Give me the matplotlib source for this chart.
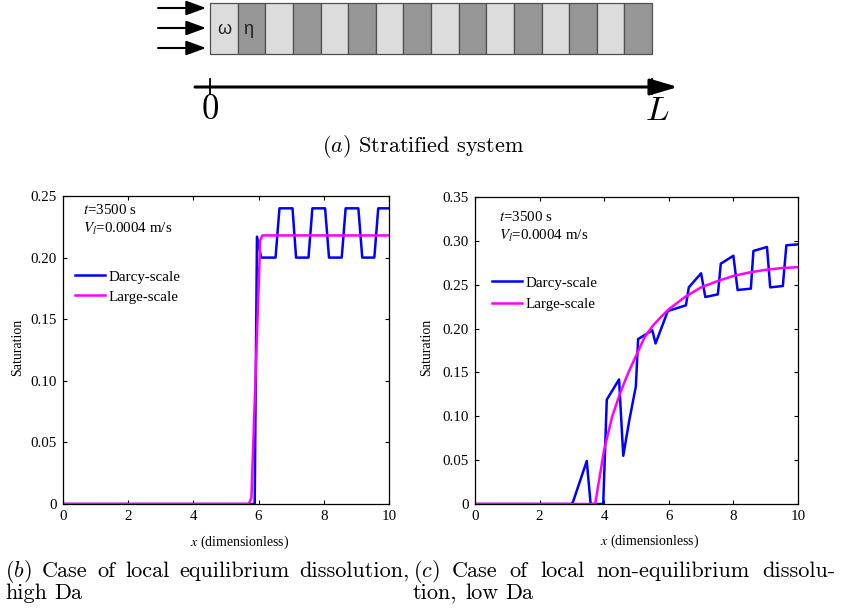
import matplotlib
matplotlib.use('Agg')
import matplotlib.pyplot as plt
from matplotlib.patches import Rectangle

# ---- data ----
# (b) local equilibrium, high Da
x_darcy_b = [0, 5.88, 5.95, 6.08, 6.52, 6.64, 7.04, 7.15, 7.53, 7.65, 8.04, 8.16,
             8.55, 8.67, 9.06, 9.18, 9.55, 9.67, 10]
s_darcy_b = [0, 0, 0.217, 0.200, 0.200, 0.240, 0.240, 0.200, 0.200, 0.240, 0.240, 0.200,
             0.200, 0.240, 0.240, 0.200, 0.200, 0.240, 0.240]
x_large_b = [0, 5.70, 5.78, 6.05, 6.12, 10]
s_large_b = [0, 0, 0.005, 0.214, 0.218, 0.218]

# (c) local non-equilibrium, low Da
x_darcy_c = [0, 2.99, 3.04, 3.46, 3.58, 3.97, 4.08, 4.46, 4.59, 4.78, 4.98, 5.05,
             5.49, 5.59, 5.97, 6.53, 6.62, 7.00, 7.13, 7.52, 7.61, 8.00, 8.13,
             8.54, 8.62, 9.04, 9.14, 9.53, 9.64, 10]
s_darcy_c = [0, 0, 0.003, 0.049, 0, 0, 0.119, 0.142, 0.055, 0.096, 0.134, 0.188,
             0.198, 0.183, 0.220, 0.2265, 0.247, 0.263, 0.236, 0.239, 0.274, 0.283, 0.244,
             0.2455, 0.2885, 0.293, 0.247, 0.2485, 0.295, 0.296]
x_large_c = [0, 3.72, 4.0, 4.25, 4.5, 4.75, 5.0, 5.25, 5.5, 5.75, 6.0, 6.5, 7.0,
             7.5, 8.0, 8.5, 9.0, 9.5, 10]
s_large_c = [0, 0, 0.062, 0.100, 0.127, 0.150, 0.170, 0.190, 0.203, 0.213, 0.222, 0.236, 0.247,
             0.254, 0.260, 0.264, 0.267, 0.269, 0.270]

x_ticks = [0, 2, 4, 6, 8, 10]
y_ticks_b = [0, 0.05, 0.10, 0.15, 0.20, 0.25]
y_ticks_c = [0, 0.05, 0.10, 0.15, 0.20, 0.25, 0.30, 0.35]
n_layers = 16

W, H = 842, 611
fig = plt.figure(figsize=(W / 100, H / 100), dpi=100)

SERIF = 'Liberation Serif'
FS = 10.8
CAP_FS = 16


def px_rect(left, top, right, bottom):
    return [left / W, 1 - bottom / H, (right - left) / W, (bottom - top) / H]


def panel(rect, xd, sd, xl, sl, yticks, ylim, txt_pos, leg_pos, leg_space, xlab_pos, ylab_pos):
    ax = fig.add_axes(rect)
    ax.plot(xd, sd, color='#0000ff', lw=1.8, label='Darcy-scale')
    ax.plot(xl, sl, color='#ff00ff', lw=1.8, label='Large-scale')
    ax.set_xlim(0, 10)
    ax.set_ylim(*ylim)
    ax.set_xticks(x_ticks)
    ax.set_xticklabels([str(t) for t in x_ticks])
    ax.set_yticks(yticks)
    ax.set_yticklabels(['0'] + ['%.2f' % t for t in yticks[1:]])
    ax.tick_params(direction='in', top=True, right=True, length=3, width=0.8,
                   labelsize=FS, pad=4.5)
    for lab in ax.get_xticklabels() + ax.get_yticklabels():
        lab.set_family(SERIF)
    for sp in ax.spines.values():
        sp.set_linewidth(0.9)
    ax.text(txt_pos[0], txt_pos[1], '$t$=3500 s', transform=ax.transAxes,
            family=SERIF, math_fontfamily='stix', fontsize=FS, va='center')
    ax.text(txt_pos[0], txt_pos[2], '$V_l$=0.0004 m/s', transform=ax.transAxes,
            family=SERIF, math_fontfamily='stix', fontsize=FS, va='center')
    ax.legend(loc='upper left', bbox_to_anchor=leg_pos, frameon=False, borderpad=0,
              borderaxespad=0, handlelength=2.0, handletextpad=0.2,
              labelspacing=leg_space, prop={'family': SERIF, 'size': FS})
    ax.text(xlab_pos[0], xlab_pos[1], '$x$ (dimensionless)', transform=ax.transAxes,
            family=SERIF, math_fontfamily='stix', fontsize=10, ha='center', va='center')
    ax.text(ylab_pos[0], ylab_pos[1], 'Saturation', transform=ax.transAxes, rotation=90,
            family=SERIF, fontsize=10, ha='center', va='center')
    return ax


panel(px_rect(63, 196, 389, 504), x_darcy_b, s_darcy_b, x_large_b, s_large_b,
      y_ticks_b, (0, 0.25), (0.061, 0.955, 0.893), (0.037, 0.759), 0.42,
      (0.543, -0.123), (-0.14, 0.51))
panel(px_rect(475, 197, 798, 504), x_darcy_c, s_darcy_c, x_large_c, s_large_c,
      y_ticks_c, (0, 0.35), (0.074, 0.935, 0.873), (0.053, 0.742), 0.55,
      (0.54, -0.123), (-0.151, 0.51))

# ---- (a) stratified system sketch, in pixel coordinates ----
top_h = 165
sk = fig.add_axes([0, 1 - top_h / H, 1, top_h / H])
sk.set_xlim(0, W)
sk.set_ylim(top_h, 0)
sk.axis('off')

bar_left, bar_right, bar_top, bar_bot = 210, 652, 3, 54
cell = (bar_right - bar_left) / n_layers
for i in range(n_layers):
    sk.add_patch(Rectangle((bar_left + i * cell, bar_top), cell, bar_bot - bar_top,
                           facecolor='#dcdcdc' if i % 2 == 0 else '#969696',
                           edgecolor='#505050', lw=0.9))
for y in (8, 28, 48):
    sk.annotate('', xy=(206, y), xytext=(158, y),
                arrowprops=dict(arrowstyle='-|>,head_length=0.6,head_width=0.22',
                                mutation_scale=20, color='k', lw=1.5,
                                shrinkA=0, shrinkB=0))
sk.text(224, 29, 'ω', fontsize=13, family='Liberation Sans', ha='center', va='center', color='#222222')
sk.text(248, 29, 'η', fontsize=13, family='Liberation Sans', ha='center', va='center', color='#222222')

sk.annotate('', xy=(678, 87), xytext=(195, 87),
            arrowprops=dict(arrowstyle='-|>,head_length=0.85,head_width=0.25',
                            mutation_scale=20, color='k', lw=2.2,
                            shrinkA=0, shrinkB=0))
for xt in (bar_left, bar_right):
    sk.plot([xt, xt], [79, 94], color='k', lw=1.3)
sk.text(bar_left, 109, '$0$', math_fontfamily='cm', fontsize=25, ha='center', va='center')
sk.text(657, 110, '$L$', math_fontfamily='cm', fontsize=25, ha='center', va='center')
sk.text(423, 147, r'$(\mathit{a})$ Stratified system', family='cmr10', math_fontfamily='cm',
        fontsize=CAP_FS, ha='center', va='center')

# ---- captions for (b) and (c): full lines are justified between x0 and x1 ----
cap_lines = [
    (577, 5, 410, [r'$(\mathit{b})$', 'Case', 'of', 'local', 'equilibrium', 'dissolution,']),
    (577, 413, 835, [r'$(\mathit{c})$', 'Case', 'of', 'local', 'non-equilibrium', 'dissolu-']),
    (599, 5, None, ['high', 'Da']),
    (599, 413, None, ['tion,', 'low', 'Da']),
]
renderer = fig.canvas.get_renderer()
for base, x0, x1, words in cap_lines:
    texts = [fig.text(0, 1 - base / H, w, family='cmr10', math_fontfamily='cm',
                      fontsize=CAP_FS, ha='left', va='baseline') for w in words]
    widths = [t.get_window_extent(renderer).width for t in texts]
    if x1 is None:
        gap = 0.333 * CAP_FS * 100 / 72
    else:
        gap = (x1 - x0 - sum(widths)) / (len(words) - 1)
    xp = x0
    for t, wd in zip(texts, widths):
        t.set_x(xp / W)
        xp += wd + gap

fig.savefig('out.png', dpi=100)
